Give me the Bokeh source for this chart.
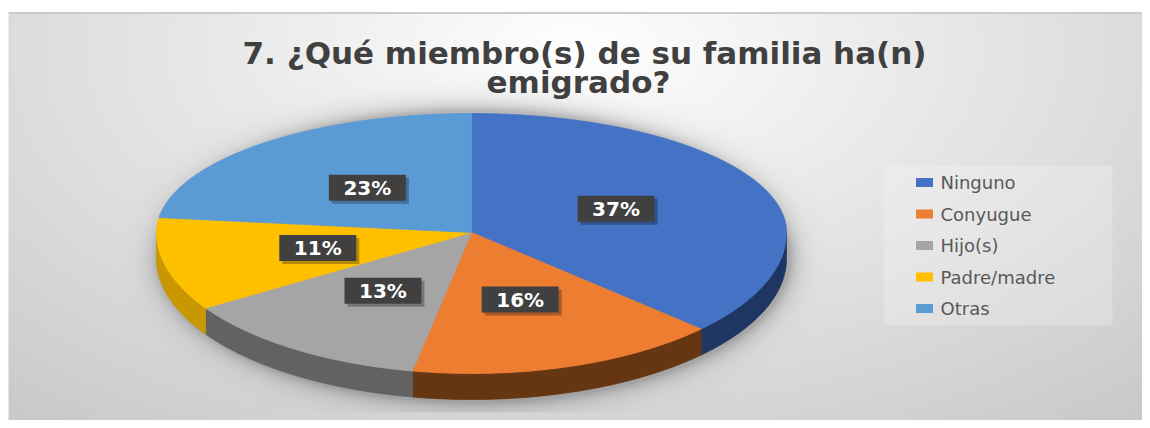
import numpy as np
from bokeh.plotting import figure
from bokeh.models import Range1d
from bokeh.core.properties import value
from bokeh.embed import file_html
from bokeh.resources import INLINE

# ---------------- data ----------------
title_lines = ["7. ¿Qué miembro(s) de su familia ha(n)", "emigrado?"]
categories = ["Ninguno", "Conyugue", "Hijo(s)", "Padre/madre", "Otras"]
values = [37, 16, 13, 11, 23]
top_colors = ["#4472C4", "#ED7D31", "#A5A5A5", "#FFC000", "#5B9BD5"]
side_colors = ["#1F3562", "#663511", "#626262", "#C99700", "#2E6EA6"]

# ---------------- layout (reference pixel coords) ----------------
W, H = 1142, 420
XL, XR = 0, W
YT, YB = 0, H


def fy(y):
    return YB + YT - y


CX, CY = 471, 232
RX, RYU, RYD = 315, 119, 141
DEPTH = 26


def ell(theta_deg):
    t = np.radians(theta_deg)
    s = np.sin(t)
    ry = np.where(s >= 0, RYU, RYD)
    return CX + RX * np.cos(t), CY - ry * s


p = figure(width=W, height=H, x_range=Range1d(XL, XR), y_range=Range1d(YT, YB),
           output_backend="svg", toolbar_location=None, min_border=0,
           x_axis_location=None, y_axis_location=None,
           outline_line_color=None, background_fill_color="white",
           border_fill_color="white")
p.grid.visible = False

# ---------------- background gradient + pie shadow ----------------
PANEL_TOP = 13
PANEL_LEFT = 8
pw = XR - PANEL_LEFT
ph = YB - PANEL_TOP
nW, nH = pw // 2, ph // 2
jj = np.arange(nW)
ii = np.arange(nH)
gx = PANEL_LEFT + (jj + 0.5) * pw / nW
gy = YB - (ii + 0.5) * ph / nH
GX, GY = np.meshgrid(gx, gy)
d = np.sqrt(((GX - 575) / 760.0) ** 2 + ((GY - 50) / 420.0) ** 2)
bg = np.clip(255 - 47 * d, 195, 255)

# soft shadow of the pie
scx, scy, srx, sry = 474, 256, 316, 146
u = (GX - scx) / srx
v = (GY - scy) / sry
dd = np.sqrt(u ** 2 + v ** 2) + 1e-9
grad = np.sqrt((u / srx) ** 2 + (v / sry) ** 2) / dd
dist = (dd - 1) / grad
alpha = np.where(dist <= 0, 0.25, 0.25 * np.exp(-np.maximum(dist, 0) / 9.0))
alpha = np.where(GY > 412, 0.0, alpha)
bg = bg * (1 - alpha)

img = np.empty((nH, nW), dtype=np.uint32)
view = img.view(dtype=np.uint8).reshape((nH, nW, 4))
c = bg.astype(np.uint8)
view[:, :, 0] = c
view[:, :, 1] = c
view[:, :, 2] = c
view[:, :, 3] = 255
p.image_rgba(image=[img], x=PANEL_LEFT, y=fy(YB), dw=pw, dh=ph)
p.segment(x0=[PANEL_LEFT], y0=[fy(12.5)], x1=[XR], y1=[fy(12.5)], line_color="#bdbdbd", line_width=1.5)

# ---------------- pie ----------------
total = float(sum(values))
starts, ends = [], []
acc = 0.0
for val in values:
    starts.append(90 - 360 * acc / total)
    acc += val
    ends.append(90 - 360 * acc / total)

side_xs, side_ys, side_cols = [], [], []
for a0, a1, col in zip(starts, ends, side_colors):
    hi = min(a0, 0.0)
    lo = max(a1, -180.0)
    if hi > lo:
        th = np.linspace(hi, lo, max(3, int(abs(hi - lo) * 2)))
        ex, ey = ell(th)
        xs = list(ex) + list(ex[::-1])
        ys = [fy(y) for y in ey] + [fy(y + DEPTH) for y in ey[::-1]]
        side_xs.append(xs)
        side_ys.append(ys)
        side_cols.append(col)
p.patches(side_xs, side_ys, fill_color=side_cols, line_color=side_cols, line_width=0.8)

top_xs, top_ys = [], []
for a0, a1 in zip(starts, ends):
    th = np.linspace(a0, a1, max(3, int(abs(a0 - a1) * 2)))
    ex, ey = ell(th)
    top_xs.append([CX] + list(ex))
    top_ys.append([fy(CY)] + [fy(y) for y in ey])
p.patches(top_xs, top_ys, fill_color=top_colors, line_color=top_colors, line_width=0.8)

# ---------------- data labels ----------------
lx, ly, ltxt = [], [], []
for a0, a1, val in zip(starts, ends, values):
    m = np.radians((a0 + a1) / 2)
    s = np.sin(m)
    ry = RYU if s >= 0 else RYD
    lx.append(CX + 0.5 * RX * np.cos(m))
    ly.append(fy(CY - 0.5 * ry * s))
    ltxt.append(f"{val}%")

p.rect(x=[x + 3 for x in lx], y=[y - 3 for y in ly], width=77, height=26,
       fill_color="black", fill_alpha=0.28, line_color=None)
p.rect(x=lx, y=ly, width=77, height=26, fill_color="#404040", line_color=None)
p.text(x=lx, y=ly, text=ltxt, text_color="white", text_font=value("DejaVu Sans"),
       text_font_style="bold", text_font_size="20px", text_align="center",
       text_baseline="middle")

# ---------------- title ----------------
p.text(x=[584, 578], y=[fy(52), fy(81)], text=title_lines, text_color="#404040",
       text_font=value("DejaVu Sans"), text_font_style="bold", text_font_size="31px",
       text_align="center", text_baseline="alphabetic")

# ---------------- legend ----------------
p.quad(left=[883], right=[1112], top=[fy(165)], bottom=[fy(325)],
       fill_color="white", fill_alpha=0.22, line_color=None)
leg_y = [fy(182 + 31.5 * k) for k in range(len(categories))]
p.rect(x=[924] * len(categories), y=leg_y, width=17, height=9,
       fill_color=top_colors, line_color=None)
p.text(x=[940] * len(categories), y=leg_y, text=categories, text_color="#595959",
       text_font=value("DejaVu Sans"), text_font_size="18px",
       text_align="left", text_baseline="middle")

open("out.html", "w").write(file_html(p, INLINE))
